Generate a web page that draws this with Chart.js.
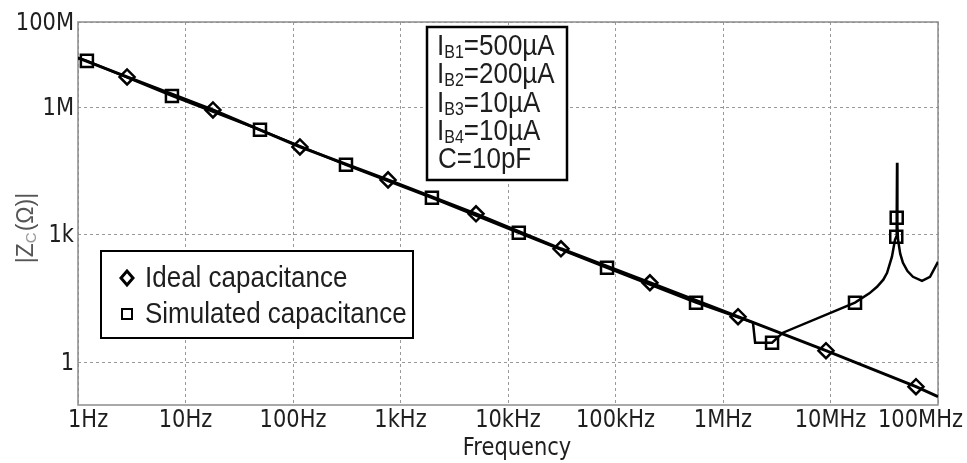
<!DOCTYPE html>
<html>
<head>
<meta charset="utf-8">
<script src="https://cdn.jsdelivr.net/npm/chart.js@4.4.0/dist/chart.umd.min.js"></script>
<style>
body { margin: 0; background: #fff; }
</style>
</head>
<body>
<canvas id="impedanceChart" width="967" height="463"></canvas>
<script>
// values (Hz, ohm)
const idealFreq = [1, 2.86, 18.0, 116, 766, 5040, 31100, 209000, 1380000, 9080000, 62400000, 100000000];
const idealZ = [1.43e7, 5.12e6, 8.59e5, 1.16e5, 1.95e4, 3110, 469, 74.6, 11.9, 1.89, 0.27, 0.157];
const idealMarker = [0, 1, 1, 1, 1, 1, 1, 1, 1, 1, 1, 0];

const simFreq = [1, 1.21, 7.48, 49.3, 311, 1960, 12600, 83400, 561000, 1900000, 1990000, 2460000, 2860000,
  3610000, 16900000, 23000000, 27100000, 31000000, 33600000, 37300000, 39800000, 40900000, 41300000, 41600000, 41900000,
  42500000, 44500000, 47200000, 52000000, 58500000, 71000000, 84300000, 100000000];
const simZ = [1.43e7, 1.22e7, 1.83e6, 2.92e5, 4.40e4, 7400, 1110, 168, 25.4, 8.6, 2.92, 2.92, 2.92,
  5.0, 25.4, 42, 60.1, 88, 128, 305, 764, 897, 2510, 49000, 1580,
  764, 360, 220, 140, 103, 83, 103, 232];
const simMarker = [0, 1, 1, 1, 1, 1, 1, 1, 1, 0, 0, 0, 1,
  0, 1, 0, 0, 0, 0, 0, 0, 1, 1, 0, 0,
  0, 0, 0, 0, 0, 0, 0, 0];

const xTicks = [1, 10, 100, 1e3, 1e4, 1e5, 1e6, 1e7, 1e8];
const xTickLabels = ['1Hz', '10Hz', '100Hz', '1kHz', '10kHz', '100kHz', '1MHz', '10MHz', '100MHz'];
const yTicks = [1, 1e3, 1e6, 1e8];
const yTickLabels = ['1', '1k', '1M', '100M'];
const biasNames = ['B1', 'B2', 'B3', 'B4'];
const biasValues = ['=500µA', '=200µA', '=10µA', '=10µA'];
const capLabel = 'C=10pF';
const legendLabels = ['Ideal capacitance', 'Simulated capacitance'];

const toPoints = (xs, ys) => xs.map((f, i) => ({ x: f, y: ys[i] }));

function tallText(ctx, s, x, y, k) {
  ctx.save();
  ctx.translate(x, y);
  ctx.scale(1, k);
  ctx.fillText(s, 0, 0);
  ctx.restore();
}

const decorations = {
  id: 'decorations',
  beforeDatasetsDraw(chart) {
    const { ctx, chartArea: a } = chart;
    ctx.save();
    ctx.strokeStyle = '#8c8c8c';
    ctx.lineWidth = 1.5;
    ctx.strokeRect(a.left, a.top, a.right - a.left, a.bottom - a.top);
    ctx.restore();
  },
  afterDraw(chart) {
    const { ctx, chartArea: a } = chart;
    const xs = chart.scales.x, ys = chart.scales.y;
    ctx.save();
    ctx.fillStyle = '#1e1e1e';
    ctx.font = '21px "DejaVu Sans"';
    ctx.textBaseline = 'middle';

    // x tick labels
    xTicks.forEach((v, i) => {
      const px = xs.getPixelForValue(v);
      let x = px;
      ctx.textAlign = 'center';
      if (i === 0) { ctx.textAlign = 'left'; x = px - 10; }
      if (i === xTicks.length - 1) { ctx.textAlign = 'right'; x = chart.width - 4; }
      tallText(ctx, xTickLabels[i], x, a.bottom + 15, 1.2);
    });

    // y tick labels
    ctx.textAlign = 'right';
    yTicks.forEach((v, i) => {
      tallText(ctx, yTickLabels[i], a.left - 4, ys.getPixelForValue(v) + 1, 1.2);
    });

    // axis titles
    ctx.textAlign = 'center';
    tallText(ctx, 'Frequency', (a.left + a.right) / 2 + 9, a.bottom + 44, 1.15);

    ctx.save();
    ctx.translate(25, 228);
    ctx.rotate(-Math.PI / 2);
    ctx.textAlign = 'left';
    ctx.textBaseline = 'alphabetic';
    ctx.font = '23px "Liberation Sans"';
    const p1 = '|Z', p3 = '(Ω)|';
    const w1 = ctx.measureText(p1).width, w3 = ctx.measureText(p3).width;
    ctx.font = '15px "Liberation Sans"';
    const w2 = ctx.measureText('C').width + 1;
    let sx = -(w1 + w2 + w3) / 2;
    ctx.fillStyle = '#555';
    ctx.font = '23px "Liberation Sans"';
    ctx.fillText(p1, sx, 8);
    ctx.fillStyle = '#999';
    ctx.font = '15px "Liberation Sans"';
    ctx.fillText('C', sx + w1, 11);
    ctx.fillStyle = '#555';
    ctx.font = '23px "Liberation Sans"';
    ctx.fillText(p3, sx + w1 + w2, 8);
    ctx.restore();

    // bias box
    ctx.fillStyle = '#fff';
    ctx.fillRect(427, 27, 140, 153);
    ctx.strokeStyle = '#000';
    ctx.lineWidth = 2.5;
    ctx.strokeRect(427, 27, 140, 153);
    ctx.fillStyle = '#1e1e1e';
    ctx.textAlign = 'left';
    ctx.textBaseline = 'alphabetic';
    biasNames.forEach((nm, i) => {
      const base = 55 + i * 28.3;
      let x = 437;
      ctx.font = '26px "Liberation Sans"';
      tallText(ctx, 'I', x, base, 1.12);
      x += ctx.measureText('I').width;
      ctx.font = '16px "Liberation Sans"';
      tallText(ctx, nm, x, base + 3, 1.12);
      x += ctx.measureText(nm).width;
      ctx.font = '26px "Liberation Sans"';
      tallText(ctx, biasValues[i], x, base, 1.12);
    });
    ctx.font = '26px "Liberation Sans"';
    tallText(ctx, capLabel, 438, 55 + 4 * 28.3, 1.12);

    // legend box
    ctx.fillStyle = '#fff';
    ctx.fillRect(101, 251, 312, 87);
    ctx.strokeStyle = '#000';
    ctx.lineWidth = 2;
    ctx.strokeRect(101, 251, 312, 87);
    ctx.lineWidth = 3;
    ctx.beginPath();
    ctx.moveTo(121, 278); ctx.lineTo(127, 271); ctx.lineTo(133, 278); ctx.lineTo(127, 285);
    ctx.closePath();
    ctx.stroke();
    ctx.lineWidth = 2;
    ctx.strokeRect(122, 309, 10, 10);
    ctx.fillStyle = '#1e1e1e';
    ctx.font = '26px "Liberation Sans"';
    tallText(ctx, legendLabels[0], 145, 287, 1.1);
    tallText(ctx, legendLabels[1], 145, 323, 1.1);
    ctx.restore();
  }
};

new Chart(document.getElementById('impedanceChart'), {
  type: 'line',
  data: {
    datasets: [{
      label: legendLabels[0],
      data: toPoints(idealFreq, idealZ),
      borderColor: '#000',
      borderWidth: 3,
      pointStyle: 'rectRot',
      pointRadius: idealMarker.map(m => m ? 7.5 : 0),
      pointBorderWidth: 2.5,
      pointBorderColor: '#000',
      pointBackgroundColor: 'rgba(0,0,0,0)',
      tension: 0
    }, {
      label: legendLabels[1],
      data: toPoints(simFreq, simZ),
      borderColor: '#000',
      borderWidth: 2.5,
      pointStyle: 'rect',
      pointRadius: simMarker.map(m => m ? 8.5 : 0),
      pointBorderWidth: 2.5,
      pointBorderColor: '#000',
      pointBackgroundColor: 'rgba(0,0,0,0)',
      tension: 0
    }]
  },
  plugins: [decorations],
  options: {
    responsive: false,
    animation: false,
    layout: { padding: { left: 78, right: 29, top: 22, bottom: 58 } },
    plugins: { legend: { display: false }, tooltip: { enabled: false } },
    scales: {
      x: {
        type: 'logarithmic',
        min: 1,
        max: 1e8,
        afterBuildTicks: s => { s.ticks = xTicks.map(v => ({ value: v })); },
        ticks: { display: false },
        grid: { color: '#999', lineWidth: 1, drawTicks: false },
        border: { display: false, dash: [3, 3] }
      },
      y: {
        type: 'logarithmic',
        min: 0.1,
        max: 1e8,
        afterBuildTicks: s => { s.ticks = yTicks.map(v => ({ value: v })); },
        ticks: { display: false },
        grid: { color: '#999', lineWidth: 1, drawTicks: false },
        border: { display: false, dash: [3, 3] }
      }
    }
  }
});
</script>
</body>
</html>
